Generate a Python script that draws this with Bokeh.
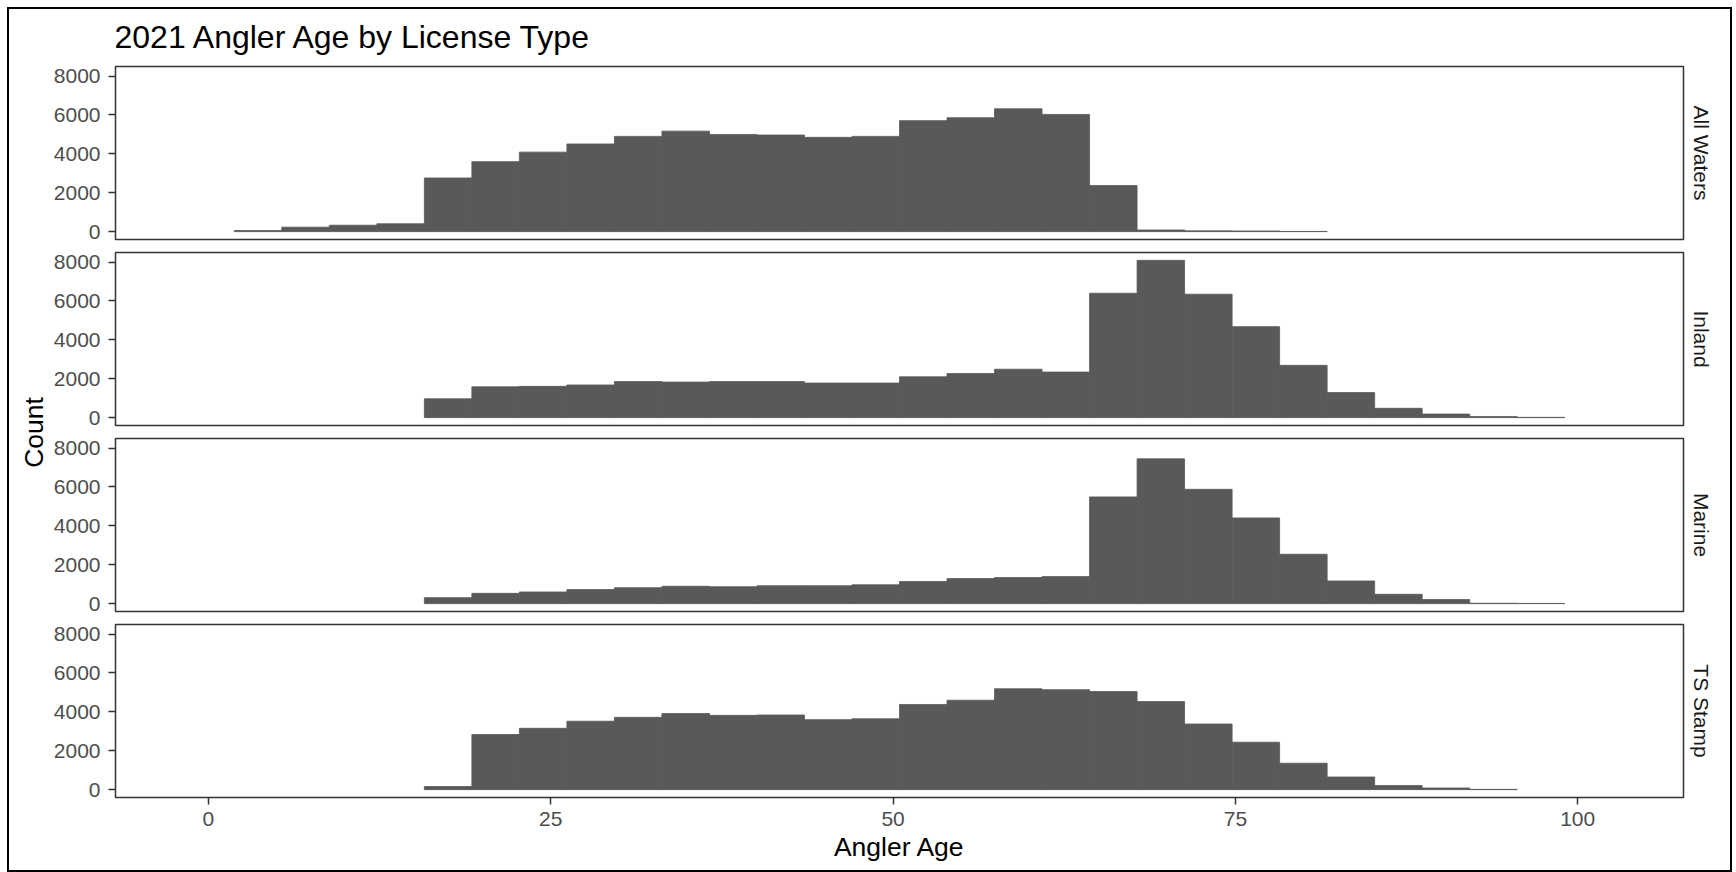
import math
from bokeh.plotting import figure
from bokeh.models import Range1d, FixedTicker, LinearAxis, Label
from bokeh.layouts import row, column
from bokeh.embed import file_html
from bokeh.resources import INLINE

# ---------------- data ----------------
chart_title = "2021 Angler Age by License Type"
x_title = "Angler Age"
y_title = "Count"

# shared histogram bin edges (30 bins) on Angler Age
age_bin_edges = [-1.58, 1.89, 5.36, 8.83, 12.30, 15.77, 19.24, 22.71, 26.18, 29.65,
                 33.12, 36.59, 40.06, 43.53, 47.00, 50.47, 53.94, 57.41, 60.88, 64.35,
                 67.82, 71.29, 74.76, 78.23, 81.70, 85.17, 88.64, 92.11, 95.58, 99.05,
                 102.52]

license_types = ["All Waters", "Inland", "Marine", "TS Stamp"]

all_waters_counts = [0, 60, 230, 330, 405, 2760, 3600, 4090, 4510, 4900,
                     5170, 5000, 4970, 4850, 4900, 5710, 5860, 6320, 6030, 2370,
                     85, 40, 35, 10, 0, 0, 0, 0, 0, 0]
inland_counts = [0, 0, 0, 0, 0, 970, 1585, 1610, 1680, 1855,
                 1830, 1855, 1855, 1780, 1780, 2100, 2270, 2490, 2345, 6400,
                 8090, 6350, 4680, 2690, 1290, 480, 185, 60, 15, 0]
marine_counts = [0, 0, 0, 0, 0, 307, 528, 600, 725, 820,
                 895, 870, 920, 920, 970, 1140, 1290, 1340, 1390, 5490,
                 7450, 5880, 4410, 2540, 1167, 480, 210, 20, 10, 0]
ts_stamp_counts = [0, 0, 0, 0, 0, 160, 2835, 3155, 3520, 3720,
                   3915, 3820, 3840, 3600, 3645, 4380, 4600, 5190, 5140, 5045,
                   4530, 3375, 2440, 1360, 650, 210, 85, 15, 0, 0]

x_ticks = [0, 25, 50, 75, 100]
y_ticks = [0, 2000, 4000, 6000, 8000]

series = [all_waters_counts, inland_counts, marine_counts, ts_stamp_counts]

# ---------------- styling ----------------
FONT = "Liberation Sans"
BAR = "#595959"
BORDER = "#333333"
TICK_TXT = "#4D4D4D"
STRIP_TXT = "#1A1A1A"

span = age_bin_edges[-1] - age_bin_edges[0]
xmin = age_bin_edges[0] - 0.05 * span
xmax = age_bin_edges[-1] + 0.05 * span
ymax_data = max(max(s) for s in series)
ymin = -0.05 * ymax_data
ymax = 1.05 * ymax_data

FRAME_W = 1568
FRAME_H = 173
LEFT_W = 41
BORDER_L = 64
BORDER_R = 47
TITLE_H = 50

borders = [(7, 6), (7, 6), (7, 6), (7, 73)]

panels = []
for i, (name, counts) in enumerate(zip(license_types, series)):
    top_b, bot_b = borders[i]
    last = (i == len(series) - 1)
    p = figure(frame_width=FRAME_W, frame_height=FRAME_H,
               x_range=Range1d(xmin, xmax), y_range=Range1d(ymin, ymax),
               output_backend="svg", toolbar_location=None,
               x_axis_location="below" if last else None,
               min_border_left=BORDER_L, min_border_right=BORDER_R,
               min_border_top=top_b, min_border_bottom=bot_b)
    p.background_fill_color = "white"
    p.border_fill_color = "white"
    p.outline_line_color = BORDER
    p.outline_line_width = 1.5
    p.grid.visible = False

    lefts = [age_bin_edges[k] for k, c in enumerate(counts) if c > 0]
    rights = [age_bin_edges[k + 1] for k, c in enumerate(counts) if c > 0]
    tops = [c for c in counts if c > 0]
    p.quad(left=lefts, right=rights, top=tops, bottom=0,
           fill_color=BAR, line_color=BAR, line_width=0.8)

    ya = p.yaxis[0]
    ya.ticker = FixedTicker(ticks=y_ticks)
    ya.minor_tick_line_color = None
    ya.axis_line_color = None
    ya.major_tick_in = 0
    ya.major_tick_out = 7
    ya.major_tick_line_color = BORDER
    ya.major_tick_line_width = 1.5
    ya.major_label_text_font = FONT
    ya.major_label_text_font_size = "21px"
    ya.major_label_text_color = TICK_TXT
    ya.major_label_standoff = 8

    if last:
        xa = p.xaxis[0]
        xa.ticker = FixedTicker(ticks=x_ticks)
        xa.minor_tick_line_color = None
        xa.axis_line_color = None
        xa.major_tick_in = 0
        xa.major_tick_out = 7
        xa.major_tick_line_color = BORDER
        xa.major_tick_line_width = 1.5
        xa.major_label_text_font = FONT
        xa.major_label_text_font_size = "21px"
        xa.major_label_text_color = TICK_TXT
        xa.major_label_standoff = 7
        xa.axis_label = x_title
        xa.axis_label_text_font = FONT
        xa.axis_label_text_font_size = "26.5px"
        xa.axis_label_text_font_style = "normal"
        xa.axis_label_text_color = "black"
        xa.axis_label_standoff = 3

    # facet strip label on the right
    strip = LinearAxis(ticker=FixedTicker(ticks=[]), axis_label=name,
                       axis_line_color=None, major_tick_line_color=None,
                       minor_tick_line_color=None)
    strip.axis_label_text_font = FONT
    strip.axis_label_text_font_size = "21px"
    strip.axis_label_text_font_style = "normal"
    strip.axis_label_text_color = STRIP_TXT
    strip.axis_label_standoff = 6
    p.add_layout(strip, "right")
    panels.append(p)

total_w = LEFT_W + BORDER_L + FRAME_W + BORDER_R
panels_h = sum(FRAME_H + t + b for t, b in borders)

# title strip across the top
title_fig = figure(width=total_w, height=TITLE_H, x_range=Range1d(0, total_w),
                   y_range=Range1d(0, TITLE_H), output_backend="svg", toolbar_location=None,
                   min_border=0, x_axis_location=None, y_axis_location=None)
title_fig.outline_line_color = None
title_fig.grid.visible = False
title_fig.background_fill_color = "white"
title_fig.border_fill_color = "white"
title_fig.add_layout(Label(x=LEFT_W + BORDER_L, y=23, text=chart_title,
                           text_align="left", text_baseline="middle",
                           text_font=FONT, text_font_size="32px", text_color="black"))

# y-axis title column on the left
left = figure(width=LEFT_W, height=panels_h, x_range=Range1d(0, LEFT_W), y_range=Range1d(0, panels_h),
              output_backend="svg", toolbar_location=None,
              min_border=0, x_axis_location=None, y_axis_location=None)
left.outline_line_color = None
left.grid.visible = False
left.background_fill_color = "white"
left.border_fill_color = "white"
left.add_layout(Label(x=24, y=438, text=y_title, angle=math.pi / 2,
                      text_align="center", text_baseline="middle",
                      text_font=FONT, text_font_size="26.5px", text_color="black"))

layout = column(title_fig, row(left, column(*panels)),
                styles={"border": "2px solid black", "background-color": "white",
                        "margin-left": "7px", "margin-top": "7px"})

open("out.html", "w").write(file_html(layout, INLINE))
